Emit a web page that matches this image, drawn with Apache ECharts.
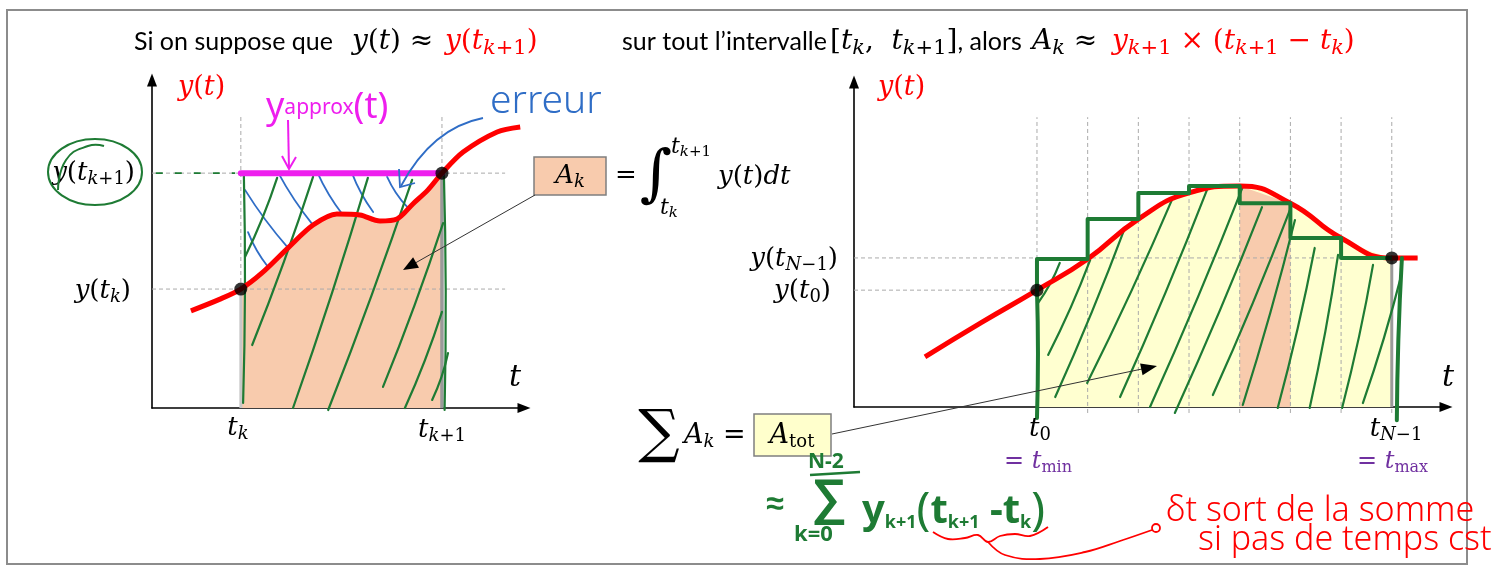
<!DOCTYPE html>
<html>
<head>
<meta charset="utf-8">
<script src="https://cdn.jsdelivr.net/npm/echarts@6/dist/echarts.min.js"></script>
<style>
html,body{margin:0;padding:0;background:#fff;}
#main{width:1505px;height:567px;}
</style>
</head>
<body>
<div id="main"></div>
<script>
// ---------- left panel: a single interval [t_k, t_k+1] ----------
const leftCurve = [[10.3,29.0],[18.0,32.5],[23.5,35.5],[29.1,40.3],[36.0,47.8],[42.6,54.6],
  [48.9,57.9],[55.0,57.6],[60.3,55.8],[64.8,56.4],[69.0,60.9],[73.0,65.1],[76.7,70.1],
  [82.3,76.4],[91.3,82.4],[97.4,83.9]];
const tK = 23.5, tK1 = 76.7;
const yTK = 35.5, yTK1 = 70.1;
// hand hatching [x1, y1, x2, y2]
const leftGreenStrokes = [[24.6,45.1,33.1,68.7],[26.5,18.8,42.6,69.0],[37.3,0,57.1,68.7],
  [46.6,-0.6,68.8,68.1],[61.1,6.3,77.0,55.2],[66.9,0,76.7,28.7],[74.1,2.4,78.3,16.4],
  [24.1,1.5,24.3,69.5],[77.4,-0.6,77.2,70.1]];
const leftBlueStrokes = [[24.6,65.1,36.0,47.8],[25.4,52.5,30.7,42.1],[33.3,70.4,42.6,54.6],
  [43.7,70.4,50.5,57.6],[52.9,70.1,58.5,58.5],[62.2,69.0,67.5,60.0]];

// ---------- right panel: rectangles over t_0 ... t_N-1 ----------
const rightCurve = [[-2.21,15.1],[-1.1,25.4],[0,35.2],[1,44.6],[2,56.6],[3,64.5],[4,66.6],
  [5,61.4],[6,50.9],[7,44.9],[7.51,44.9]];
const sampleT = [0,1,2,3,4,5,6,7];
const sampleY = [35.2,44.6,56.6,64.5,66.6,61.4,50.9,44.9];
const highlight = [4,5];
const rightGreenStrokes = [[0.02,31.3,0.45,43.4],[0.22,15.7,1.05,44.3],[0.36,3.0,1.74,54.2],
  [0.99,7.2,2.68,63.0],[1.64,3.0,3.37,66.0],[2.23,0,4.06,66.3],[2.72,-1.8,4.44,60.2],
  [3.47,3.6,4.99,59.3],[4.06,0.6,5.09,56.3],[4.75,-0.3,5.48,47.9],[5.38,-0.3,5.94,45.8],
  [6.02,-0.3,6.63,42.8],[6.43,1.2,7.2,40.4]];

const RED = '#FF0000', GREEN = '#1E7B34', BLUE = '#2F6DC6', MAGENTA = '#EE1EEE', PURPLE = '#7030A0';
const SERIF = '"DejaVu Serif", serif';
const SANS = 'Lato, "Open Sans", sans-serif';
const HAND = '"Noto Sans", sans-serif';

function segRender(style, bow) {
  return function (params, api) {
    const p1 = api.coord([api.value(0), api.value(1)]);
    const p2 = api.coord([api.value(2), api.value(3)]);
    if (bow) {
      const dx = p2[0] - p1[0], dy = p2[1] - p1[1], L = Math.hypot(dx, dy) || 1;
      const cx = (p1[0] + p2[0]) / 2 - dy / L * bow, cy = (p1[1] + p2[1]) / 2 + dx / L * bow;
      return {type: 'bezierCurve', shape: {x1: p1[0], y1: p1[1], x2: p2[0], y2: p2[1], cpx1: cx, cpy1: cy},
        style: Object.assign({fill: null}, style), silent: true};
    }
    return {type: 'line', shape: {x1: p1[0], y1: p1[1], x2: p2[0], y2: p2[1]},
      style: Object.assign({}, style), silent: true};
  };
}
function segSeries(g, data, style, z, bow) {
  return {type: 'custom', xAxisIndex: g, yAxisIndex: g, data: data, z: z, clip: false, silent: true,
    renderItem: segRender(style, bow || 0)};
}
function axisX(g, min, max) {
  return {type: 'value', gridIndex: g, min: min, max: max,
    axisLine: {show: true, onZero: false, symbol: ['none', 'triangle'], symbolSize: [10, 13],
      lineStyle: {color: '#000', width: 1.6}},
    axisTick: {show: false}, axisLabel: {show: false}, splitLine: {show: false}};
}
function axisY(g, min, max) {
  return {type: 'value', gridIndex: g, min: min, max: max,
    axisLine: {show: true, onZero: false, symbol: ['none', 'triangle'], symbolSize: [10, 13],
      lineStyle: {color: '#000', width: 1.6}},
    axisTick: {show: false}, axisLabel: {show: false}, splitLine: {show: false}};
}

// rich-text styles for maths: i = italic, u = upright, bi/bu = subscripts
function mathRich(size, color, prefix, subRatio) {
  const p = prefix || '';
  const sub = Math.round(size * (subRatio || 0.68));
  const drop = Math.round(size * 0.45);
  const base = {fontFamily: SERIF, fill: color, color: color, verticalAlign: 'middle', lineHeight: Math.round(size * 1.3)};
  const r = {};
  r[p + 'i'] = Object.assign({}, base, {fontStyle: 'italic', fontSize: size});
  r[p + 'u'] = Object.assign({}, base, {fontSize: size});
  r[p + 's'] = Object.assign({}, base, {fontFamily: SANS, fontSize: Math.round(size * 0.9)});
  r[p + 'bi'] = Object.assign({}, base, {fontStyle: 'italic', fontSize: sub, lineHeight: sub, padding: [drop, 0, 0, 0]});
  r[p + 'bu'] = Object.assign({}, base, {fontSize: sub, lineHeight: sub, padding: [drop, 0, 0, 0]});
  return r;
}
function txt(x, y, text, rich, align, z) {
  return {type: 'text', x: x, y: y, z: z || 50, silent: true,
    style: {text: text, rich: rich, align: align || 'left', verticalAlign: 'middle'}};
}
function plain(x, y, text, font, color, align, z) {
  return {type: 'text', x: x, y: y, z: z || 50, silent: true,
    style: {text: text, font: font, fill: color, align: align || 'left', verticalAlign: 'middle'}};
}
function arrowHead(x1, y1, x2, y2, len, half, color) {
  const a = Math.atan2(y2 - y1, x2 - x1);
  const bx = x2 - len * Math.cos(a), by = y2 - len * Math.sin(a);
  return {type: 'polygon', z: 60, silent: true,
    shape: {points: [[x2, y2], [bx + half * Math.sin(a), by - half * Math.cos(a)], [bx - half * Math.sin(a), by + half * Math.cos(a)]]},
    style: {fill: color}};
}

const mt = Object.assign({}, mathRich(28, '#000', '', 0.74), mathRich(28, RED, 'r', 0.74));
const m26 = mathRich(26, '#000');
const r27 = mathRich(27, RED);
const m22 = mathRich(22, '#000');
const p24 = mathRich(24, PURPLE);

const leftDashed = [[0, yTK1, 93.4, yTK1], [0, yTK, 93.4, yTK], [tK, 0, tK, 86.9], [tK1, 0, tK1, 86.9]];
const rightDashed = sampleT.map(t => [t, -1.8, t, 87.3])
  .concat([[-3.61, sampleY[7], 7.51, sampleY[7]], [-3.61, sampleY[0], 0, sampleY[0]]]);

const series = [
  // left panel
  {type: 'line', xAxisIndex: 0, yAxisIndex: 0, smooth: 0.3, showSymbol: false, z: 1, silent: true,
    data: leftCurve.filter(p => p[0] >= tK && p[0] <= tK1),
    lineStyle: {width: 0}, areaStyle: {color: '#F8CBAD', opacity: 1}},
  segSeries(0, leftDashed, {stroke: '#AAAAAA', lineWidth: 1, lineDash: [4, 3]}, 2),
  segSeries(0, [[1, yTK1, 22, yTK1]], {stroke: GREEN, lineWidth: 1.6, lineDash: [7, 12]}, 3),
  segSeries(0, [[tK, 0, tK, yTK]], {stroke: '#C8C8C8', lineWidth: 3}, 3),
  segSeries(0, [[tK1, 0, tK1, yTK1]], {stroke: '#9A9A9A', lineWidth: 3.5}, 3),
  segSeries(0, leftBlueStrokes, {stroke: BLUE, lineWidth: 1.8, lineCap: 'round'}, 4, 3),
  segSeries(0, leftGreenStrokes, {stroke: GREEN, lineWidth: 2.2, lineCap: 'round'}, 4, 3),
  segSeries(0, [[tK, yTK1, tK1, yTK1]], {stroke: MAGENTA, lineWidth: 6, lineCap: 'round'}, 5),
  {type: 'line', xAxisIndex: 0, yAxisIndex: 0, smooth: 0.3, showSymbol: false, z: 6, silent: true,
    data: leftCurve, lineStyle: {color: RED, width: 5}},
  {type: 'scatter', xAxisIndex: 0, yAxisIndex: 0, z: 8, silent: true, symbolSize: 13,
    itemStyle: {color: '#000'}, data: [[tK, yTK], [tK1, yTK1]]},

  // right panel
  {type: 'line', xAxisIndex: 1, yAxisIndex: 1, smooth: true, showSymbol: false, z: 1, silent: true,
    data: rightCurve.filter(p => p[0] >= sampleT[0] && p[0] <= sampleT[7]),
    lineStyle: {width: 0}, areaStyle: {color: '#FFFFD0', opacity: 1}},
  {type: 'line', xAxisIndex: 1, yAxisIndex: 1, smooth: true, showSymbol: false, z: 1, silent: true,
    data: rightCurve.filter(p => p[0] >= highlight[0] && p[0] <= highlight[1]),
    lineStyle: {width: 0}, areaStyle: {color: '#F8CBAD', opacity: 1}},
  segSeries(1, rightDashed, {stroke: '#AAAAAA', lineWidth: 1, lineDash: [4, 3]}, 2),
  segSeries(1, [[sampleT[7], 0, sampleT[7], sampleY[7]]], {stroke: '#9A9A9A', lineWidth: 3}, 3),
  segSeries(1, rightGreenStrokes, {stroke: GREEN, lineWidth: 2.2, lineCap: 'round'}, 4, 3),
  {type: 'line', xAxisIndex: 1, yAxisIndex: 1, smooth: true, showSymbol: false, z: 6, silent: true,
    data: rightCurve, lineStyle: {color: RED, width: 5}},
  {type: 'line', xAxisIndex: 1, yAxisIndex: 1, step: 'start', showSymbol: false, z: 7, silent: true,
    data: sampleT.map((t, i) => [t, sampleY[i]]), lineStyle: {color: GREEN, width: 4, join: 'round'}},
  segSeries(1, [[sampleT[0], -3.3, sampleT[0], sampleY[0]], [7.2, sampleY[7], 7.1, -4]],
    {stroke: GREEN, lineWidth: 4, lineCap: 'round'}, 7, 2),
  {type: 'scatter', xAxisIndex: 1, yAxisIndex: 1, z: 8, silent: true, symbolSize: 13,
    itemStyle: {color: '#000'}, data: [[sampleT[0], sampleY[0]], [sampleT[7], sampleY[7]]]}
];

const g = [];
// frame
g.push({type: 'rect', z: 0, silent: true, shape: {x: 7, y: 10, width: 1460, height: 554},
  style: {fill: null, stroke: '#8C8C8C', lineWidth: 2}});
// title, in pieces
g.push(txt(134, 42, '{s|Si on suppose que}', mt));
g.push(txt(352, 42, '{i|y}{u|(}{i|t}{u|) ≈}', mt));
g.push(txt(445, 42, '{ri|y}{ru|(}{ri|t}{rbi|k}{rbu|+1}{ru|)}', mt));
g.push(txt(622, 42, '{s|sur tout l’intervalle}', mt));
g.push(txt(830, 42, '{u|[}{i|t}{bi|k}{u|,  }{i|t}{bi|k}{bu|+1}{u|]}{s|, alors}', mt));
g.push(txt(1032, 42, '{i|A}{bi|k}{u| ≈}', mt));
g.push(txt(1112, 42, '{ri|y}{rbi|k}{rbu|+1}{ru| × (}{ri|t}{rbi|k}{rbu|+1}{ru| − }{ri|t}{rbi|k}{ru|)}', mt));

// left panel labels
g.push(txt(178, 88, '{i|y}{u|(}{i|t}{u|)}', r27));
g.push(txt(509, 378, '{i|t}', mathRich(30, '#000')));
g.push(txt(238, 428, '{i|t}{bi|k}', m26, 'center'));
g.push(txt(442, 430, '{i|t}{bi|k}{bu|+1}', m26, 'center'));
g.push(txt(131, 291, '{i|y}{u|(}{i|t}{bi|k}{u|)}', m26, 'right'));
g.push(txt(135, 173, '{i|y}{u|(}{i|t}{bi|k}{bu|+1}{u|)}', m26, 'right'));
g.push({type: 'ellipse', z: 55, silent: true, shape: {cx: 95, cy: 172, rx: 47, ry: 33},
  style: {fill: null, stroke: GREEN, lineWidth: 2}});
g.push({type: 'polyline', z: 55, silent: true, shape: {points: [[58, 190], [66, 160], [88, 146], [104, 146]], smooth: 0.5},
  style: {fill: null, stroke: GREEN, lineWidth: 2}});

// A_k box and its integral
g.push({type: 'rect', z: 50, silent: true, shape: {x: 534, y: 157, width: 72, height: 38},
  style: {fill: '#F8CBAD', stroke: '#7F7F7F', lineWidth: 1.5}});
g.push(txt(570, 176, '{i|A}{bi|k}', m26, 'center', 51));
g.push(plain(626, 176, '=', '26px ' + SERIF, '#000', 'center'));
g.push(plain(656, 178, '∫', 'italic 62px ' + SERIF, '#000', 'center'));
g.push(txt(671, 147, '{i|t}{bi|k}{bu|+1}', m22));
g.push(txt(660, 208, '{i|t}{bi|k}', m22));
g.push(txt(718, 177, '{i|y}{u|(}{i|t}{u|)}{i|dt}', m26));
g.push({type: 'line', z: 60, silent: true, shape: {x1: 535, y1: 195, x2: 410, y2: 266}, style: {stroke: '#333', lineWidth: 1}});
g.push(arrowHead(535, 195, 403, 270, 15, 6, '#000'));

// handwritten notes, left panel
g.push(txt(266, 108, '{a|y}{b|approx}{a|(t)}', {
  a: {fontFamily: HAND, fontSize: 36, fill: MAGENTA, color: MAGENTA, verticalAlign: 'middle', lineHeight: 42},
  b: {fontFamily: HAND, fontSize: 21, fill: MAGENTA, color: MAGENTA, verticalAlign: 'middle', lineHeight: 24}}));
g.push({type: 'line', z: 60, silent: true, shape: {x1: 288, y1: 120, x2: 289, y2: 169}, style: {stroke: MAGENTA, lineWidth: 2}});
g.push({type: 'polyline', z: 60, silent: true, shape: {points: [[282, 156], [289, 169], [296, 157]]},
  style: {fill: null, stroke: MAGENTA, lineWidth: 2}});
g.push(plain(490, 102, 'erreur', '300 39px ' + HAND, BLUE));
g.push({type: 'bezierCurve', z: 60, silent: true, shape: {x1: 483, y1: 118, x2: 401, y2: 186, cpx1: 432, cpy1: 128},
  style: {fill: null, stroke: BLUE, lineWidth: 1.8}});
g.push({type: 'polyline', z: 60, silent: true, shape: {points: [[399, 169], [400, 187], [415, 183]]},
  style: {fill: null, stroke: BLUE, lineWidth: 1.8}});

// right panel labels
g.push(txt(878, 88, '{i|y}{u|(}{i|t}{u|)}', r27));
g.push(txt(1442, 378, '{i|t}', mathRich(30, '#000')));
g.push(txt(838, 259, '{i|y}{u|(}{i|t}{bi|N}{bu|−1}{u|)}', m26, 'right'));
g.push(txt(831, 291, '{i|y}{u|(}{i|t}{bu|0}{u|)}', m26, 'right'));
g.push(txt(1040, 429, '{i|t}{bu|0}', m26, 'center'));
g.push(txt(1396, 429, '{i|t}{bi|N}{bu|−1}', m26, 'center'));
g.push(txt(1004, 462, '{u|= }{i|t}{bu|min}', p24));
g.push(txt(1357, 462, '{u|= }{i|t}{bu|max}', p24));

// A_tot box and sum
g.push(plain(659, 436, '∑', '58px ' + SERIF, '#000', 'center'));
g.push(txt(684, 436, '{i|A}{bi|k}{u| =}', mathRich(27, '#000')));
g.push({type: 'rect', z: 50, silent: true, shape: {x: 754, y: 414, width: 77, height: 42},
  style: {fill: '#FFFFCC', stroke: '#7F7F7F', lineWidth: 1.5}});
g.push(txt(792, 436, '{i|A}{bu|tot}', mathRich(27, '#000'), 'center', 51));
g.push({type: 'line', z: 60, silent: true, shape: {x1: 832, y1: 434, x2: 1142, y2: 369}, style: {stroke: '#333', lineWidth: 1}});
g.push(arrowHead(832, 434, 1157, 366, 16, 6, '#000'));

// handwritten sum, green
const hg = function (size) { return {fontFamily: HAND, fontWeight: 'bold', fontSize: size, fill: GREEN, color: GREEN, verticalAlign: 'middle', lineHeight: size}; };
g.push(plain(808, 462, 'N-2', 'bold 21px ' + HAND, GREEN));
g.push({type: 'line', z: 55, silent: true, shape: {x1: 810, y1: 475, x2: 860, y2: 472}, style: {stroke: GREEN, lineWidth: 2.5}});
g.push(plain(775, 505, '≈', 'bold 32px ' + HAND, GREEN, 'center'));
g.push(plain(829, 500, '∑', 'bold 50px ' + HAND, GREEN, 'center'));
g.push(plain(794, 535, 'k=0', 'bold 22px ' + HAND, GREEN));
g.push(txt(862, 512, '{a|y}{s|k+1}{p|(}{a|t}{s|k+1}{a| -t}{s|k}{p|)}', {
  a: hg(40), p: Object.assign(hg(46), {fontWeight: 'normal'}),
  s: Object.assign(hg(18), {padding: [22, 0, 0, 0]})}));

// red remark
g.push({type: 'polyline', z: 55, silent: true, shape: {points: [[933, 532], [948, 539], [965, 538], [978, 535], [988, 542],
  [1000, 536], [1015, 534], [1030, 536], [1048, 527]], smooth: 0.4}, style: {fill: null, stroke: RED, lineWidth: 1.8}});
g.push({type: 'polyline', z: 55, silent: true, shape: {points: [[988, 542], [1005, 555], [1040, 559], [1085, 552], [1120, 541], [1152, 530]],
  smooth: 0.4}, style: {fill: null, stroke: RED, lineWidth: 1.8}});
g.push({type: 'circle', z: 55, silent: true, shape: {cx: 1156, cy: 528, r: 4}, style: {fill: null, stroke: RED, lineWidth: 1.8}});
g.push(plain(1166, 511, 'δt sort de la somme', '300 34px ' + HAND, RED));
g.push(plain(1198, 540, 'si pas de temps cst', '300 34px ' + HAND, RED));

const chart = echarts.init(document.getElementById('main'), null, {renderer: 'canvas'});
chart.setOption({
  animation: false,
  backgroundColor: '#fff',
  grid: [{left: 152, top: 80, width: 372, height: 328}, {left: 854, top: 82, width: 592, height: 325}],
  xAxis: [axisX(0, 0, 98.4), axisX(1, -3.61, 8.07)],
  yAxis: [axisY(0, 0, 97.9), axisY(1, 0, 97.9)],
  series: series,
  graphic: {elements: g}
});
</script>
</body>
</html>
